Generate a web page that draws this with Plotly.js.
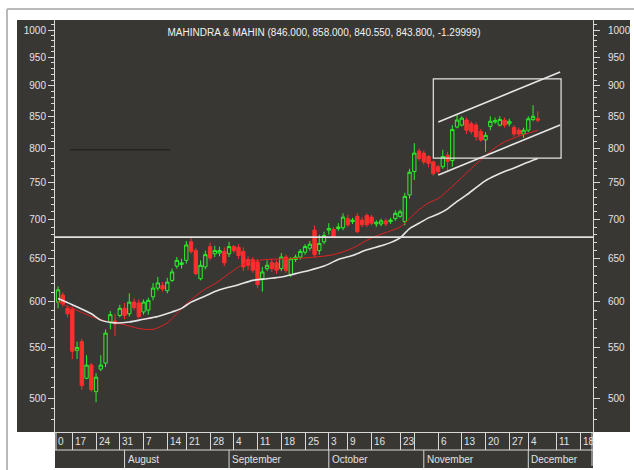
<!DOCTYPE html>
<html><head><meta charset="utf-8">
<script src="https://cdn.plot.ly/plotly-3.0.1.min.js"></script>
<style>html,body{margin:0;padding:0;background:#fff;overflow:hidden}#chart{width:634px;height:470px}</style>
</head><body><div id="chart"></div>
<script>
// ---- data (trading-day index, prices) ----
const candleX = [2,3,4,5,6,7,8,9,10,11,12,13,14,15,16,17,18,19,20,21,22,23,24,25,26,27,28,29,30,31,32,33,34,35,36,37,38,39,40,41,42,43,44,45,46,47,48,49,50,51,52,53,54,55,56,57,58,59,60,61,62,63,64,65,66,67,68,69,70,71,72,73,74,75,76,77,78,79,80,81,82,83,84,85,86,87,88,89,90,91,92,93,94,95,96,97,98,99,100,101,102,103];
const openP = [599,607,592,591,547,556,519,532,506,528,
  534,577,578,584,592,586,599,598,588,590,
  605,615,618,612,624,641,643,648,671,660,
  626,640,665,656,657,659,656,665,664,659,
  649,649,646,626,638,645,645,638,652,631,
  649,652,658,663,686,660,671,686,687,688,
  689,701,697,704,699,705,703,694,694,698,
  697,701,704,697,733,766,796,793,788,780,
  773,773,790,782,833,836,844,838,836,826,
  813,834,841,836,844,838,832,828,822,828,
  845,846];
const highP = [617,610,595,594,556,559,542,534,524,542,
  569,589,586,596,598,609,603,602,602,604,
  621,628,622,627,638,652,650,672,678,663,
  648,660,670,666,665,664,671,667,668,664,
  653,652,650,640,648,650,648,657,655,652,
  655,662,668,672,692,680,684,695,690,695,
  708,706,702,708,703,708,706,699,701,701,
  702,712,713,736,770,808,800,797,790,782,
  776,798,795,836,852,850,848,842,840,830,
  825,850,848,850,848,846,836,832,832,850,
  868,858];
const lowP = [592,594,582,538,538,508,518,506,496,526,
  530,569,562,582,580,583,590,581,585,585,
  601,612,611,609,622,638,638,644,656,630,
  624,637,648,652,653,641,652,657,650,635,
  636,633,615,611,635,634,632,635,633,628,
  646,649,655,660,652,655,668,680,676,685,
  686,690,694,682,690,690,692,690,691,691,
  694,698,702,692,728,754,782,776,772,760,
  762,770,765,773,831,834,822,822,812,810,
  795,828,838,834,832,834,818,819,816,825,
  842,840.55];
const closeP = [613,597,586,546,550,512,532,508,520,532,
  565,585,575,592,584,599,593,583,599,601,
  615,621,614,622,634,648,645,667,659,632,
  642,655,651,660,660,645,665,660,654,640,
  642,636,619,634,642,638,636,652,636,650,
  652,659,665,668,655,669,679,688,678,690,
  703,693,699,684,693,693,695,696,698,694,
  699,708,710,731,765,793,785,780,778,763,
  766,788,781,829,844,847,828,826,818,813,
  820,842,843,845,836,842,822,822,828,846,
  850,843.8];

// moving averages
const redMaX = [2,5,9,12,16,19,22,25,27,29,31,33,35,38,40,42,46,51,56,60,64,68,72,74,76,78,80,82,84,86,88,90,92,94,96,98,100,103];
const redMaY = [599,592,583,578,574,570,569,576,586,597,606,614,620,632,640,646,649,650,652,655,663,676,685,690,701,713,722,728,739,751,764,777,789,801,810,816,821,828];
const whiteMaX = [2,5,9,11,14,17,20,23,26,28,30,33,36,40,43,46,49,52,55,58,61,64,67,70,72,74,76,78,80,82,84,86,88,90,92,94,96,98,100,103];
const whiteMaY = [603,596,586,579,576,577,580,583,588,592,599,606,613,619,624,626,628,632,636,641,649,654,661,666,670,676,688,695,702,707,714,724,733,743,753,760,766,771,777,785];

// drawn studies
const channelX = [82.05, 107.7];
const channelUpper = [841, 924];
const channelLower = [761, 836];
const boxX = [81.0, 107.9];
const boxY = [785.5, 912];
const supportLevel = 677;
const oldLineX = [4.5, 25.6];
const oldLineY = [798, 798];

// axis labels
const priceTicks = [500,550,600,650,700,750,800,850,900,950,1000];
const weekTickIdx = [5,10,15,20,25,29,34,39,44,49,54,59,63,68,74,77,82,87,92,97,101,107,112];
const weekTickText = ['17','24','31','7','14','21','28','4','11','18','25','3','9','16','23','','6','13','20','27','4','11','18'];
const monthIdx = [16,38,59,79,101];
const monthText = ['August','September','October','November','December'];
const titleText = 'MAHINDRA & MAHIN (846.000, 858.000, 840.550, 843.800, -1.29999)';

// ---- styling ----
const FONT = 'Liberation Sans, Arial, sans-serif';
const PANEL = '#383733';
const LINE = '#d8d8d8';
const TXT = '#e2e2e2';
const yRange = [2.67117, 3.00818];
const xRange = [1.358, 114.62];
const minorTicks = [];
for (let v = 480; v <= 1010; v += 10) if (v % 50 !== 0) minorTicks.push(v);

const traces = [
  {type:'candlestick', x:candleX, open:openP, high:highP, low:lowP, close:closeP,
   increasing:{line:{color:'#2ef02e', width:1}, fillcolor:'rgba(0,0,0,0)'},
   decreasing:{line:{color:'#ff2e2e', width:1}, fillcolor:'#ff2e2e'},
   whiskerwidth:0, hoverinfo:'skip', showlegend:false},
  {type:'scatter', mode:'lines', x:redMaX, y:redMaY, line:{color:'#e02222', width:1, shape:'spline', smoothing:0.8}, hoverinfo:'skip'},
  {type:'scatter', mode:'lines', x:whiteMaX, y:whiteMaY, line:{color:'#e6e6e6', width:1.6, shape:'spline', smoothing:0.8}, hoverinfo:'skip'},
  {type:'scatter', mode:'lines', x:oldLineX, y:oldLineY, line:{color:'#1c1c1c', width:1}, hoverinfo:'skip'},
  {type:'scatter', mode:'lines', x:channelX, y:channelUpper, yaxis:'y2', line:{color:'#e6e6e6', width:1.6}, hoverinfo:'skip'},
  {type:'scatter', mode:'lines', x:channelX, y:channelLower, yaxis:'y2', line:{color:'#e6e6e6', width:1.6}, hoverinfo:'skip'}
];

const yCommon = {type:'log', range:yRange, autorange:false, showgrid:false, zeroline:false,
  showline:true, linecolor:LINE, linewidth:1, ticks:'outside', ticklen:6, tickcolor:LINE, tickwidth:1,
  tickmode:'array', tickvals:priceTicks, ticktext:priceTicks.map(String),
  tickfont:{family:FONT, size:10, color:TXT},
  minor:{tickmode:'array', tickvals:minorTicks, ticks:'outside', ticklen:3, tickcolor:LINE, tickwidth:1, showgrid:false},
  fixedrange:true};

// paper helpers (plot area: x 55..593, y 20..432 px)
const fx = px => (px - 55) / 538;
const fy = py => (432 - py) / 412;

const shapes = [
  {type:'rect', xref:'paper', yref:'paper', x0:fx(17), x1:fx(630), y0:fy(432), y1:fy(20), fillcolor:PANEL, line:{width:0}, layer:'below'},
  {type:'rect', xref:'paper', yref:'paper', x0:0, x1:1, y0:fy(468), y1:0, fillcolor:PANEL, line:{width:0}, layer:'below'},
  {type:'line', xref:'paper', yref:'paper', x0:fx(7), x1:fx(634), y0:fy(9), y1:fy(9), line:{color:'#b9b9b9', width:2}, layer:'below'},
  {type:'line', xref:'paper', yref:'paper', x0:fx(7), x1:fx(7), y0:fy(9), y1:fy(470), line:{color:'#b9b9b9', width:2}, layer:'below'},
  {type:'line', xref:'paper', yref:'paper', x0:0, x1:1, y0:fy(450), y1:fy(450), line:{color:LINE, width:1}},
  {type:'line', xref:'paper', yref:'paper', x0:fx(592), x1:fx(592), y0:0, y1:fy(466), line:{color:LINE, width:1}},
  {type:'line', xref:'paper', yref:'paper', x0:fx(56), x1:fx(56), y0:0, y1:fy(450), line:{color:LINE, width:1}},
  {type:'line', xref:'paper', yref:'y', x0:0, x1:1, y0:supportLevel, y1:supportLevel, line:{color:'#e2e2e2', width:1.6}, layer:'above'},
  {type:'rect', xref:'x', yref:'y', x0:boxX[0], x1:boxX[1], y0:boxY[0], y1:boxY[1], line:{color:'#e6e6e6', width:1.2}, fillcolor:'rgba(0,0,0,0)', layer:'above'}
];
monthIdx.forEach(i => shapes.push({type:'line', xref:'x', yref:'paper', x0:i, x1:i, y0:fy(450), y1:fy(468), line:{color:LINE, width:1}}));

const annotations = [];
weekTickIdx.forEach((i, k) => {
  if (weekTickText[k]) annotations.push({xref:'x', yref:'paper', x:i, y:fy(441.5), xanchor:'left', yanchor:'middle', xshift:0.5, text:weekTickText[k], showarrow:false, font:{family:FONT, size:10, color:TXT}});
});
annotations.push({xref:'paper', yref:'paper', x:0, y:fy(441.5), xanchor:'left', yanchor:'middle', xshift:1, text:'0', showarrow:false, font:{family:FONT, size:10, color:TXT}});
monthIdx.forEach((i, k) => annotations.push({xref:'x', yref:'paper', x:i, y:fy(459.5), xanchor:'left', yanchor:'middle', xshift:1, text:monthText[k], showarrow:false, font:{family:FONT, size:10, color:TXT}}));

const layout = {
  width:634, height:470,
  margin:{l:55, r:41, t:20, b:38, pad:0},
  paper_bgcolor:'#ffffff', plot_bgcolor:PANEL,
  showlegend:false, hovermode:false,
  boxgap:0.3, boxgroupgap:0,
  font:{family:FONT, size:10, color:TXT},
  title:{text:titleText, x:0.5, xref:'paper', xanchor:'center', y:1-32/470, yref:'container', yanchor:'middle', font:{family:FONT, size:10, color:'#f2f2f2'}},
  xaxis:{range:xRange, autorange:false, type:'linear', showgrid:false, zeroline:false, showline:true, linecolor:LINE, linewidth:1,
    ticks:'outside', ticklen:17, tickcolor:LINE, tickwidth:1, tickmode:'array', tickvals:weekTickIdx, showticklabels:false,
    rangeslider:{visible:false}, fixedrange:true},
  yaxis:Object.assign({}, yCommon, {side:'left'}),
  yaxis2:Object.assign({}, yCommon, {side:'right', overlaying:'y', anchor:'x', ticklabelstandoff:6}),
  shapes:shapes, annotations:annotations
};

Plotly.newPlot('chart', traces, layout, {displayModeBar:false, staticPlot:true});
</script></body></html>
